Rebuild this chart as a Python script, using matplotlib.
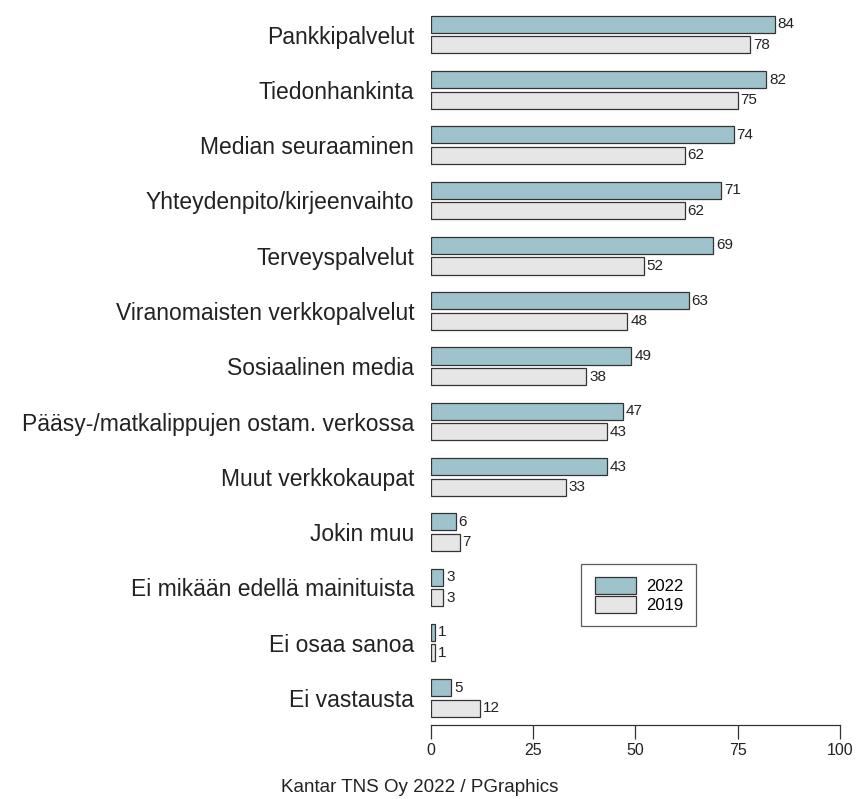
import numpy as np
import matplotlib.pyplot as plt

categories = ['Pankkipalvelut', 'Tiedonhankinta', 'Median seuraaminen',
              'Yhteydenpito/kirjeenvaihto', 'Terveyspalvelut',
              'Viranomaisten verkkopalvelut', 'Sosiaalinen media',
              'Pääsy-/matkalippujen ostam. verkossa', 'Muut verkkokaupat',
              'Jokin muu', 'Ei mikään edellä mainituista', 'Ei osaa sanoa',
              'Ei vastausta']
v2022 = [84, 82, 74, 71, 69, 63, 49, 47, 43, 6, 3, 1, 5]
v2019 = [78, 75, 62, 62, 52, 48, 38, 43, 33, 7, 3, 1, 12]
xticks = [0, 25, 50, 75, 100]

plt.rcParams['font.family'] = ['Liberation Sans', 'DejaVu Sans']

fig = plt.figure(figsize=(8.58, 7.99), dpi=100)
ax = fig.add_axes([0.5023, 0.0926, 0.4767, 0.898])

y = np.arange(len(categories))
h = 0.31
off = 0.186
ax.barh(y - off, v2022, height=h, color='#9fc3cc', edgecolor='#333333', linewidth=0.9, label='2022')
ax.barh(y + off, v2019, height=h, color='#e6e6e6', edgecolor='#333333', linewidth=0.9, label='2019')

for yi, v in zip(y, v2022):
    ax.text(v + 0.7, yi - off, str(v), va='center', ha='left', fontsize=11, color='#222222')
for yi, v in zip(y, v2019):
    ax.text(v + 0.7, yi + off, str(v), va='center', ha='left', fontsize=11, color='#222222')

ax.set_xlim(0, 100)
ax.set_ylim(len(categories) - 1 + 0.49, -0.49)
ax.set_yticks(y)
ax.set_yticklabels(categories, fontsize=16.5, color='#222222')
ax.tick_params(axis='y', length=0, pad=12)
ax.set_xticks(xticks)
ax.set_xticklabels([str(t) for t in xticks], fontsize=11.5, color='#222222')
ax.tick_params(axis='x', length=10, width=0.9, color='#333333', direction='out', pad=3)

for s in ['top', 'right', 'left']:
    ax.spines[s].set_visible(False)
ax.spines['bottom'].set_color('#333333')
ax.spines['bottom'].set_linewidth(0.9)

leg = ax.legend(loc='upper left', bbox_to_anchor=(0.368, 0.225), fontsize=12,
                frameon=True, fancybox=False, edgecolor='#333333',
                handlelength=2.5, handleheight=1.2, labelspacing=0.1,
                borderpad=0.8, handletextpad=0.55, borderaxespad=0)
leg.get_frame().set_linewidth(0.9)

fig.text(0.489, 0.004, 'Kantar TNS Oy 2022 / PGraphics', ha='center', va='bottom',
         fontsize=13.5, color='#222222')

fig.savefig('out.png', dpi=100)
